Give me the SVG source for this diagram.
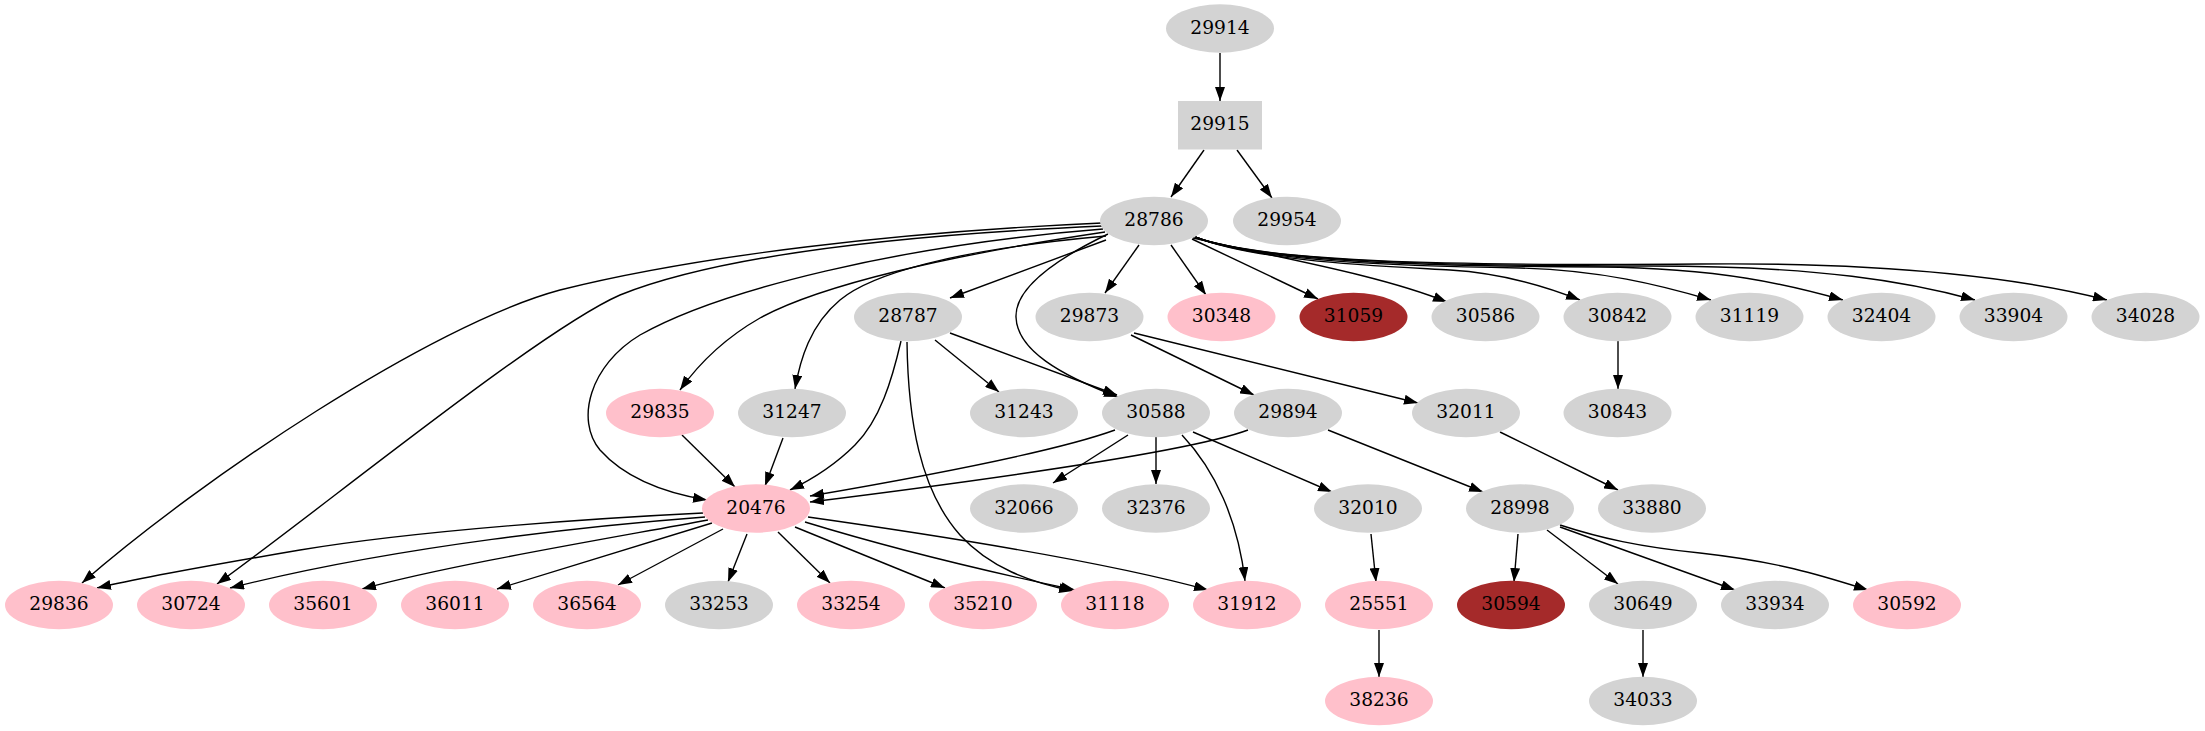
<svg xmlns="http://www.w3.org/2000/svg" width="2205" height="731" viewBox="0 0 2205 731">
<defs>
<style>
.n ellipse, .n rect { stroke: none; }
.g { fill: #d3d3d3; }
.p { fill: #ffc0cb; }
.b { fill: #a52a2a; }
text { font-family: "DejaVu Serif", "Liberation Serif", serif; font-size: 18.67px; text-anchor: middle; fill: #000; }
#edges path { fill: none; stroke: #000; stroke-width: 1.4; marker-end: url(#arr); }
</style>
<marker id="arr" viewBox="0 0 14 10" markerUnits="userSpaceOnUse" markerWidth="14" markerHeight="10" refX="14" refY="5" orient="auto">
<path d="M0,0 L14,5 L0,10 z" fill="#000"/>
</marker>
</defs>
<rect width="2205" height="731" fill="#fff"/>
<g id="edges">
<path d="M1220,53 L1220,101"/>
<path d="M1204,150 L1171,197"/>
<path d="M1237,150 L1272,198"/>
<path d="M1139,245 L1105,293"/>
<path d="M1171,245 L1206,295"/>
<path d="M1192,239 L1318,299"/>
<path d="M1193,238 C1280,258 1380,275 1447,302"/>
<path d="M1195,237 C1260,262 1380,266 1450,270 C1500,273 1540,284 1580,300"/>
<path d="M1195,237 C1260,262 1400,266 1520,268 C1600,270 1660,285 1711,300"/>
<path d="M1195,237 C1260,262 1420,266 1600,267 C1720,268 1790,285 1843,300"/>
<path d="M1195,237 C1260,262 1450,266 1650,266 C1820,266 1910,282 1975,300"/>
<path d="M1195,237 C1260,262 1450,266 1700,264 C1900,262 2030,280 2107,300"/>
<path d="M1106,240 L950,298"/>
<path d="M1108,234 C1050,262 1015,290 1016,317 C1017,350 1060,375 1118,397"/>
<path d="M1106,236 C950,250 870,275 840,300 C810,325 800,360 795,389"/>
<path d="M1105,232 C950,255 820,285 760,318 C725,338 700,362 680,390"/>
<path d="M1103,229 C900,245 720,290 640,335 C590,365 575,420 600,450 C625,478 665,493 707,500"/>
<path d="M1102,226 C900,235 720,255 620,295 C540,330 320,510 217,584"/>
<path d="M1102,223 C900,232 700,255 560,290 C430,325 200,480 82,583"/>
<path d="M950,333 L1117,395"/>
<path d="M935,340 L999,392"/>
<path d="M901,341 C892,380 880,420 855,445 C835,465 815,478 790,490"/>
<path d="M907,342 C908,420 920,490 960,535 C990,568 1030,582 1073,591"/>
<path d="M1131,335 L1254,395"/>
<path d="M1134,333 L1418,403"/>
<path d="M1618,341 L1618,389"/>
<path d="M682,435 L735,487"/>
<path d="M783,438 L765,486"/>
<path d="M1115,430 C1060,450 950,472 810,496"/>
<path d="M1248,430 C1200,448 1050,472 810,502"/>
<path d="M1128,435 L1053,483"/>
<path d="M1156,437 L1156,484"/>
<path d="M1182,435 C1215,470 1238,520 1245,581"/>
<path d="M1193,432 L1332,492"/>
<path d="M1328,430 L1483,492"/>
<path d="M1500,432 L1618,490"/>
<path d="M703,513 C600,518 420,530 300,550 C200,567 140,578 97,588"/>
<path d="M705,517 C600,525 400,545 230,588"/>
<path d="M708,520 C600,540 450,565 362,589"/>
<path d="M712,523 L497,589"/>
<path d="M723,529 L618,585"/>
<path d="M747,534 L728,582"/>
<path d="M778,532 L830,583"/>
<path d="M795,527 L945,588"/>
<path d="M805,522 C880,545 980,570 1075,590"/>
<path d="M808,517 C900,530 1100,560 1208,590"/>
<path d="M1371,534 L1376,582"/>
<path d="M1379,630 L1379,677"/>
<path d="M1518,534 L1514,582"/>
<path d="M1547,530 L1618,584"/>
<path d="M1560,527 L1735,590"/>
<path d="M1560,525 C1600,538 1640,547 1700,553 C1780,562 1820,575 1868,590"/>
<path d="M1643,630 L1643,677"/>
</g>
<g id="n29914" class="n"><ellipse class="g" cx="1220" cy="28.5" rx="54" ry="24.2"/><text x="1220" y="33.5">29914</text></g>
<g id="n29915" class="n"><rect class="g" x="1178" y="101" width="84" height="48.5"/><text x="1220" y="130">29915</text></g>
<g id="n28786" class="n"><ellipse class="g" cx="1154" cy="221" rx="54" ry="24.2"/><text x="1154" y="226">28786</text></g>
<g id="n29954" class="n"><ellipse class="g" cx="1287" cy="221" rx="54" ry="24.2"/><text x="1287" y="226">29954</text></g>
<g id="n28787" class="n"><ellipse class="g" cx="908" cy="317" rx="54" ry="24.2"/><text x="908" y="322">28787</text></g>
<g id="n29873" class="n"><ellipse class="g" cx="1089.5" cy="317" rx="54" ry="24.2"/><text x="1089.5" y="322">29873</text></g>
<g id="n30348" class="n"><ellipse class="p" cx="1221.5" cy="317" rx="54" ry="24.2"/><text x="1221.5" y="322">30348</text></g>
<g id="n31059" class="n"><ellipse class="b" cx="1353.5" cy="317" rx="54" ry="24.2"/><text x="1353.5" y="322">31059</text></g>
<g id="n30586" class="n"><ellipse class="g" cx="1485.5" cy="317" rx="54" ry="24.2"/><text x="1485.5" y="322">30586</text></g>
<g id="n30842" class="n"><ellipse class="g" cx="1617.5" cy="317" rx="54" ry="24.2"/><text x="1617.5" y="322">30842</text></g>
<g id="n31119" class="n"><ellipse class="g" cx="1749.5" cy="317" rx="54" ry="24.2"/><text x="1749.5" y="322">31119</text></g>
<g id="n32404" class="n"><ellipse class="g" cx="1881.5" cy="317" rx="54" ry="24.2"/><text x="1881.5" y="322">32404</text></g>
<g id="n33904" class="n"><ellipse class="g" cx="2013.5" cy="317" rx="54" ry="24.2"/><text x="2013.5" y="322">33904</text></g>
<g id="n34028" class="n"><ellipse class="g" cx="2145.5" cy="317" rx="54" ry="24.2"/><text x="2145.5" y="322">34028</text></g>
<g id="n29835" class="n"><ellipse class="p" cx="660" cy="413" rx="54" ry="24.2"/><text x="660" y="418">29835</text></g>
<g id="n31247" class="n"><ellipse class="g" cx="792" cy="413" rx="54" ry="24.2"/><text x="792" y="418">31247</text></g>
<g id="n31243" class="n"><ellipse class="g" cx="1024" cy="413" rx="54" ry="24.2"/><text x="1024" y="418">31243</text></g>
<g id="n30588" class="n"><ellipse class="g" cx="1156" cy="413" rx="54" ry="24.2"/><text x="1156" y="418">30588</text></g>
<g id="n29894" class="n"><ellipse class="g" cx="1288" cy="413" rx="54" ry="24.2"/><text x="1288" y="418">29894</text></g>
<g id="n32011" class="n"><ellipse class="g" cx="1466" cy="413" rx="54" ry="24.2"/><text x="1466" y="418">32011</text></g>
<g id="n30843" class="n"><ellipse class="g" cx="1617.5" cy="413" rx="54" ry="24.2"/><text x="1617.5" y="418">30843</text></g>
<g id="n20476" class="n"><ellipse class="p" cx="756" cy="508.5" rx="54" ry="24.2"/><text x="756" y="513.5">20476</text></g>
<g id="n32066" class="n"><ellipse class="g" cx="1024" cy="508.5" rx="54" ry="24.2"/><text x="1024" y="513.5">32066</text></g>
<g id="n32376" class="n"><ellipse class="g" cx="1156" cy="508.5" rx="54" ry="24.2"/><text x="1156" y="513.5">32376</text></g>
<g id="n32010" class="n"><ellipse class="g" cx="1368" cy="508.5" rx="54" ry="24.2"/><text x="1368" y="513.5">32010</text></g>
<g id="n28998" class="n"><ellipse class="g" cx="1520" cy="508.5" rx="54" ry="24.2"/><text x="1520" y="513.5">28998</text></g>
<g id="n33880" class="n"><ellipse class="g" cx="1652" cy="508.5" rx="54" ry="24.2"/><text x="1652" y="513.5">33880</text></g>
<g id="n29836" class="n"><ellipse class="p" cx="59" cy="605" rx="54" ry="24.2"/><text x="59" y="610">29836</text></g>
<g id="n30724" class="n"><ellipse class="p" cx="191" cy="605" rx="54" ry="24.2"/><text x="191" y="610">30724</text></g>
<g id="n35601" class="n"><ellipse class="p" cx="323" cy="605" rx="54" ry="24.2"/><text x="323" y="610">35601</text></g>
<g id="n36011" class="n"><ellipse class="p" cx="455" cy="605" rx="54" ry="24.2"/><text x="455" y="610">36011</text></g>
<g id="n36564" class="n"><ellipse class="p" cx="587" cy="605" rx="54" ry="24.2"/><text x="587" y="610">36564</text></g>
<g id="n33253" class="n"><ellipse class="g" cx="719" cy="605" rx="54" ry="24.2"/><text x="719" y="610">33253</text></g>
<g id="n33254" class="n"><ellipse class="p" cx="851" cy="605" rx="54" ry="24.2"/><text x="851" y="610">33254</text></g>
<g id="n35210" class="n"><ellipse class="p" cx="983" cy="605" rx="54" ry="24.2"/><text x="983" y="610">35210</text></g>
<g id="n31118" class="n"><ellipse class="p" cx="1115" cy="605" rx="54" ry="24.2"/><text x="1115" y="610">31118</text></g>
<g id="n31912" class="n"><ellipse class="p" cx="1247" cy="605" rx="54" ry="24.2"/><text x="1247" y="610">31912</text></g>
<g id="n25551" class="n"><ellipse class="p" cx="1379" cy="605" rx="54" ry="24.2"/><text x="1379" y="610">25551</text></g>
<g id="n30594" class="n"><ellipse class="b" cx="1511" cy="605" rx="54" ry="24.2"/><text x="1511" y="610">30594</text></g>
<g id="n30649" class="n"><ellipse class="g" cx="1643" cy="605" rx="54" ry="24.2"/><text x="1643" y="610">30649</text></g>
<g id="n33934" class="n"><ellipse class="g" cx="1775" cy="605" rx="54" ry="24.2"/><text x="1775" y="610">33934</text></g>
<g id="n30592" class="n"><ellipse class="p" cx="1907" cy="605" rx="54" ry="24.2"/><text x="1907" y="610">30592</text></g>
<g id="n38236" class="n"><ellipse class="p" cx="1379" cy="701" rx="54" ry="24.2"/><text x="1379" y="706">38236</text></g>
<g id="n34033" class="n"><ellipse class="g" cx="1643" cy="701" rx="54" ry="24.2"/><text x="1643" y="706">34033</text></g>
</svg>
